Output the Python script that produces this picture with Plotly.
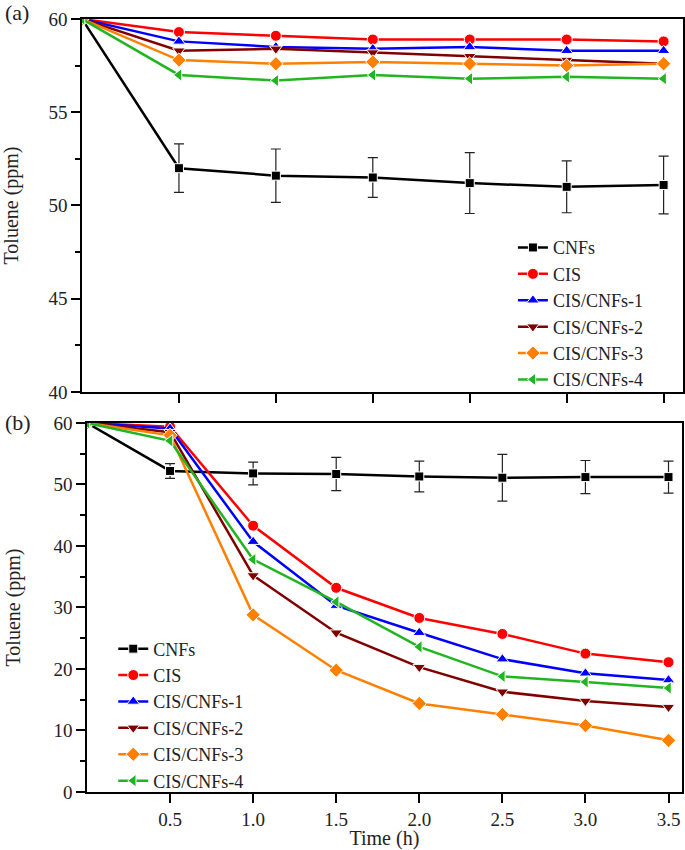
import plotly.graph_objects as go

# panel (a): dark adsorption, 7 sampling points after t=0
t_a = [0, 1, 2, 3, 4, 5, 6]
# panel (b): irradiation time (h)
t_b = [0, 0.5, 1.0, 1.5, 2.0, 2.5, 3.0, 3.5]

names = ['CNFs', 'CIS', 'CIS/CNFs-1', 'CIS/CNFs-2', 'CIS/CNFs-3', 'CIS/CNFs-4']
colors = ['#000000', '#ff0000', '#0000ff', '#800000', '#ff8000', '#22b522']
symbols = ['square', 'circle', 'triangle-up', 'triangle-down', 'diamond', 'triangle-left']

# toluene concentration (ppm), panel (a)
cnfs_a = [60, 52.0, 51.6, 51.5, 51.2, 51.0, 51.1]
cis_a = [60, 59.3, 59.1, 58.9, 58.9, 58.9, 58.8]
cis1_a = [60, 58.8, 58.5, 58.4, 58.5, 58.3, 58.3]
cis2_a = [60, 58.3, 58.4, 58.2, 58.0, 57.8, 57.6]
cis3_a = [60, 57.8, 57.6, 57.7, 57.6, 57.5, 57.6]
cis4_a = [60, 57.0, 56.7, 57.0, 56.8, 56.9, 56.8]
cnfs_a_err = [0, 1.3, 1.43, 1.07, 1.63, 1.39, 1.55]

# toluene concentration (ppm), panel (b)
cnfs_b = [60, 52.2, 51.8, 51.7, 51.3, 51.1, 51.2, 51.2]
cis_b = [60, 59.4, 43.3, 33.2, 28.3, 25.7, 22.5, 21.1]
cis1_b = [60, 59.1, 40.7, 30.3, 25.9, 21.6, 19.3, 18.2]
cis2_b = [60, 58.5, 35.2, 25.9, 20.3, 16.3, 14.8, 13.8]
cis3_b = [60, 58.0, 28.8, 19.8, 14.4, 12.6, 10.8, 8.4]
cis4_b = [60, 57.1, 37.8, 30.9, 23.6, 18.8, 17.9, 16.9]
cnfs_b_err = [0, 1.2, 1.85, 2.7, 2.5, 3.8, 2.7, 2.6]

series_a = [cnfs_a, cis_a, cis1_a, cis2_a, cis3_a, cis4_a]
series_b = [cnfs_b, cis_b, cis1_b, cis2_b, cis3_b, cis4_b]

FONT = 'Liberation Serif'
TXT = '#222222'

fig = go.Figure()


def add_series(x, ys, err, xa, ya, legend):
    for i, y in enumerate(ys):
        error_y = None
        if i == 0:
            error_y = dict(type='data', array=err, visible=True,
                           color='#222222', thickness=1.2, width=5)
        fig.add_trace(go.Scatter(
            x=x, y=y, name=names[i], mode='lines+markers',
            xaxis=xa, yaxis=ya, legend=legend,
            line=dict(color=colors[i], width=2.5),
            marker=dict(symbol=symbols[i], size=11 if i else 9, color=colors[i],
                        line=dict(color='white', width=1)),
            error_y=error_y,
        ))


add_series(t_a, series_a, cnfs_a_err, 'x', 'y', 'legend')
add_series(t_b, series_b, cnfs_b_err, 'x2', 'y2', 'legend2')

axis_common = dict(showline=True, linecolor='black', linewidth=1.5, mirror=True,
                   ticks='outside', ticklen=9, tickwidth=1.5, tickcolor='black',
                   showgrid=False, zeroline=False, automargin=False,
                   tickfont=dict(family=FONT, size=19, color=TXT))
title_font = dict(family=FONT, size=20, color=TXT)
legend_font = dict(family=FONT, size=18, color=TXT)

fig.update_layout(
    width=685, height=850, autosize=False,
    margin=dict(l=82, r=2, t=19, b=58),
    plot_bgcolor='white', paper_bgcolor='white',
    font=dict(family=FONT, color=TXT),
    xaxis=dict(domain=[0, 1], range=[0, 6.2], tickvals=[1, 2, 3, 4, 5, 6],
               showticklabels=False, anchor='y', **axis_common),
    yaxis=dict(domain=[0.5175, 1], range=[40, 60], tickvals=[40, 45, 50, 55, 60],
               minor=dict(ticks='outside', ticklen=5, dtick=2.5, tickcolor='black'),
               anchor='x',
               title=dict(text='Toluene (ppm)', font=title_font, standoff=27),
               **axis_common),
    xaxis2=dict(domain=[0.0083, 0.998], range=[0, 3.58],
                tickvals=[0.5, 1.0, 1.5, 2.0, 2.5, 3.0, 3.5], tickformat='.1f',
                anchor='y2',
                title=dict(text='Time (h)', font=title_font, standoff=4),
                **axis_common),
    yaxis2=dict(domain=[0, 0.4774], range=[0, 60], tickvals=[0, 10, 20, 30, 40, 50, 60],
                minor=dict(ticks='outside', ticklen=5, dtick=5, tickcolor='black'),
                anchor='x2',
                title=dict(text='Toluene (ppm)', font=title_font, standoff=27),
                **axis_common),
    legend=dict(x=0.717, y=0.728, xanchor='left', yanchor='top',
                bgcolor='rgba(0,0,0,0)', tracegroupgap=0, font=legend_font),
    legend2=dict(x=0.052, y=0.209, xanchor='left', yanchor='top',
                 bgcolor='rgba(0,0,0,0)', tracegroupgap=0, font=legend_font),
)

# panel letters placed in pixel terms relative to the plot area
plot_w = 685 - 82 - 2
plot_h = 850 - 19 - 58
for label, center_px in [('(a)', 13), ('(b)', 422)]:
    fig.add_annotation(text=label, showarrow=False, xref='paper', yref='paper',
                       x=(3 - 82) / plot_w, y=(850 - 58 - center_px) / plot_h,
                       xanchor='left', yanchor='middle',
                       font=dict(family=FONT, size=22, color=TXT))

fig.write_html("out.html", config={'displayModeBar': False},
               post_script="document.body.style.margin='0';")
